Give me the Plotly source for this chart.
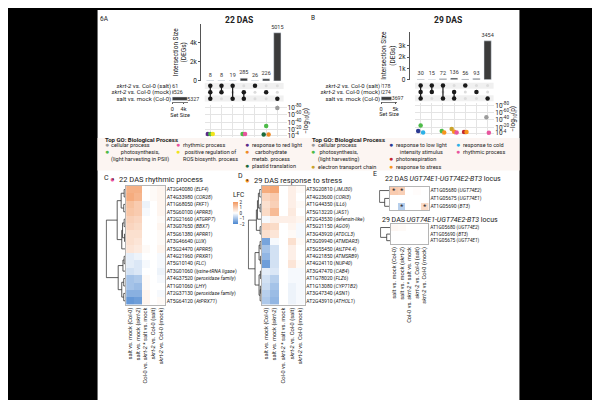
import plotly.graph_objects as go
from collections import defaultdict

W, H = 600, 400
FONT = "Roboto"

# ---------------- DATA ----------------
set_labels = ["<i>skrt-2</i> vs. Col-0 (salt)", "<i>skrt-2</i> vs. Col-0 (mock)", "salt vs. mock (Col-0)"]
inter_members = [[0, 1, 2], [0, 1], [0, 2], [1, 2], [0], [1], [2]]

set_sizes_A = [61, 526, 5327]
inter_sizes_A = [8, 8, 19, 285, 26, 226, 5015]
set_sizes_B = [178, 274, 3697]
inter_sizes_B = [30, 15, 72, 136, 56, 93, 3454]

go_colors = {
    "cellular process": "#9b9b9b",
    "rhythmic process": "#e8559e",
    "response to red light": "#5a2a88",
    "photosynthesis": "#4dbb48",
    "ROS biosynth": "#f1e41c",
    "carbohydrate metab": "#ef8a26",
    "plastid translation": "#1b6a3a",
    "response to low light": "#2b3a92",
    "response to cold": "#2cb0e6",
    "photorespiration": "#c3272d",
    "electron transport chain": "#c9a32a",
    "response to stress": "#f7941d",
}

goA_col = [1, 1, 1, 4, 4, 6, 6, 6, 7]
goA_val = [8, 8, 8, 8, 8, 7, 30, 7, 79]
goA_term = ["response to red light", "photosynthesis", "ROS biosynth", "photosynthesis",
            "rhythmic process", "plastid translation", "photosynthesis", "carbohydrate metab",
            "cellular process"]

goB_col = [1, 1, 1, 3, 3, 4, 4, 4, 5, 5, 7, 7]
goB_val = [10, 25, 6, 10, 6, 15, 8, 6, 7, 7, 47, 5]
goB_term = ["response to low light", "photosynthesis", "response to cold", "photosynthesis",
            "response to stress", "electron transport chain", "response to stress", "rhythmic process",
            "photorespiration", "response to stress", "cellular process", "rhythmic process"]

contrasts = ["salt vs. mock (Col-0)", "salt vs. mock (<i>skrt-2</i>)",
             "Col-0 vs. <i>skrt-2</i> * salt vs. mock", "<i>skrt-2</i> vs. Col-0 (salt)",
             "<i>skrt-2</i> vs. Col-0 (mock)"]

genes_C = ["AT2G40080 (<i>ELF4</i>)", "AT4G33980 (<i>COR28</i>)", "AT1G68050 (<i>FKF1</i>)",
           "AT5G60100 (<i>APRR3</i>)", "AT2G21660 (<i>ATGRP7</i>)", "AT3G07650 (<i>BBX7</i>)",
           "AT5G61380 (<i>APRR1</i>)", "AT3G46640 (<i>LUX</i>)", "AT5G24470 (<i>APRR5</i>)",
           "AT4G21960 (<i>PRXR1</i>)", "AT5G10140 (<i>FLC</i>)", "AT3G01060 (<i>lysine-tRNA ligase</i>)",
           "AT4G37520 (<i>peroxidase family</i>)", "AT1G01060 (<i>LHY</i>)",
           "AT2G37130 (<i>peroxidase family</i>)", "AT5G64120 (<i>AtPRX71</i>)"]
lfc_C = [
    [1.5, 1.5, 0.0, 0.1, 0.2], [1.6, 1.4, 0.0, 0.1, 0.2], [1.2, 1.0, -0.2, 0.0, 0.2],
    [1.1, 1.0, -0.1, 0.0, 0.2], [0.9, 0.8, 0.0, 0.0, 0.1], [0.8, 0.7, 0.0, 0.0, 0.2],
    [0.6, 0.6, 0.0, 0.0, 0.1], [0.6, 0.5, 0.0, 0.0, 0.1], [0.5, 0.4, 0.1, 0.0, 0.2],
    [-0.3, -0.2, 0.0, 0.0, -0.1], [-0.3, -0.4, -0.1, 0.0, -0.1], [-0.5, -0.4, 0.0, 0.0, -0.2],
    [-1.0, -0.9, 0.1, 0.0, -0.1], [-1.0, -1.1, 0.1, 0.0, 0.0], [-1.3, -1.3, 0.2, 0.0, -0.1],
    [-1.7, -1.6, 0.2, 0.0, 0.1]]
tree_C = [(0, 1, 0.10), (2, 3, 0.12), (16, 17, 0.25), (4, 5, 0.10), (6, 7, 0.08), (19, 20, 0.18),
          (21, 8, 0.22), (18, 22, 0.45), (9, 10, 0.10), (24, 11, 0.16), (12, 13, 0.12),
          (14, 15, 0.12), (26, 27, 0.22), (25, 28, 0.40), (23, 29, 1.0)]

genes_D = ["AT3G20810 (<i>JMJ30</i>)", "AT4G23600 (<i>CORI3</i>)", "AT1G44350 (<i>ILL6</i>)",
           "AT5G13220 (<i>JAS1</i>)", "AT2G43530 (<i>defensin-like</i>)", "AT5G21150 (<i>AGO9</i>)",
           "AT3G43920 (<i>ATDCL3</i>)", "AT3G09940 (<i>ATMDAR3</i>)", "AT5G55450 (<i>AtLTP4.4</i>)",
           "AT4G21850 (<i>ATMSRB9</i>)", "AT4G24110 (<i>NUP40</i>)", "AT3G47470 (<i>CAB4</i>)",
           "AT1G78020 (<i>FLZ6</i>)", "AT1G13080 (<i>CYP71B2</i>)", "AT3G47340 (<i>ASN1</i>)",
           "AT2G43910 (<i>ATHOL1</i>)"]
lfc_D = [
    [1.6, 1.7, 0.0, 0.3, 0.1], [0.8, 1.0, 0.0, 0.3, 0.0], [0.6, 0.9, 0.0, 0.3, 0.1],
    [0.7, 1.3, 0.0, 0.4, 0.0], [-0.1, 0.3, 0.3, 0.3, 0.2], [0.8, 0.7, 0.0, 0.2, -0.1],
    [0.6, 0.5, 0.0, 0.1, -0.1], [-1.5, -0.1, 0.0, 0.6, 0.1], [-1.0, -0.5, 0.0, 0.3, 0.0],
    [-1.2, -0.5, 0.0, 0.3, 0.0], [-1.6, -0.5, 0.0, 0.5, 0.1], [-0.3, -0.4, 0.0, -0.1, -0.1],
    [-0.5, -0.8, 0.0, -0.1, -0.1], [-0.6, -1.0, 0.0, -0.2, -0.1], [-0.8, -1.1, 0.0, -0.2, -0.1],
    [-0.9, -1.2, 0.0, -0.2, -0.1]]
tree_D = [(0, 1, 0.15), (2, 3, 0.12), (16, 17, 0.25), (18, 4, 0.32), (5, 6, 0.12), (19, 20, 0.40),
          (7, 8, 0.12), (9, 10, 0.10), (22, 23, 0.20), (11, 12, 0.10), (13, 14, 0.08),
          (26, 15, 0.12), (25, 27, 0.20), (24, 28, 0.50), (21, 29, 1.0)]

genes_E1 = ["AT1G05680 (<i>UGT74E2</i>)", "AT1G05675 (<i>UGT74E1</i>)", "AT1G05690 (<i>BT3</i>)"]
lfc_E1 = [[1.0, 0.9, 0.0, 0.05, 0.0], [0.0, 0.0, 0.0, 0.0, 0.0], [0.0, -0.8, 0.0, 0.0, 0.7]]
sig_E1 = [["*", "*", "", "", ""], ["", "", "", "", ""], ["", "*", "", "", "*"]]
tree_E1 = [(1, 2, 0.5), (0, 3, 1.0)]

genes_E2 = ["AT1G05680 (<i>UGT74E2</i>)", "AT1G05690 (<i>BT3</i>)", "AT1G05675 (<i>UGT74E1</i>)"]
lfc_E2 = [[0.15, 0.1, 0.0, 0.0, 0.0], [0.0, 0.0, 0.0, 0.0, 0.0], [0.0, 0.0, 0.0, 0.0, 0.0]]
tree_E2 = [(1, 2, 0.4), (0, 3, 1.0)]

# ---------------- HELPERS ----------------
def dx(a, b):
    return [a / W, b / W]

def dy(top, bot):
    return [1 - bot / H, 1 - top / H]

def crange(a, b, c1, u):
    return [(a - c1) / u + 1, (b - c1) / u + 1]

def dodge(cols, step=0.22):
    tot = defaultdict(int)
    cnt = defaultdict(int)
    for c in cols:
        tot[c] += 1
    out = []
    for c in cols:
        k = cnt[c]
        cnt[c] += 1
        out.append(c + (k - (tot[c] - 1) / 2) * step)
    return out

def dendro_lines(n, merges):
    pos = {i: (0.0, float(i)) for i in range(n)}
    xs, ys = [], []
    for k, (a, b, h) in enumerate(merges):
        ha, ya = pos[a]
        hb, yb = pos[b]
        xs += [ha, h, h, hb, None]
        ys += [ya, ya, yb, yb, None]
        pos[n + k] = (h, (ya + yb) / 2)
    return xs, ys

HID = dict(showgrid=False, zeroline=False, showticklabels=False, ticks="", showline=False)
CSCALE = [[0, "#4a86d0"], [0.5, "#ffffff"], [1, "#f2975e"]]
TXT = "#222222"

fig = go.Figure()
layout = dict(width=W, height=H, margin=dict(l=0, r=0, t=0, b=0), paper_bgcolor="black",
              plot_bgcolor="white", showlegend=False, font=dict(family=FONT, size=6, color=TXT))
shapes = []
annotations = []

def ax(n, xd, yd, xopt, yopt):
    layout["xaxis%d" % n] = dict(domain=xd, anchor="y%d" % n, **xopt)
    layout["yaxis%d" % n] = dict(domain=yd, anchor="x%d" % n, **yopt)

def upset(base, sizes, inter, c1, u, bar_dom, bar_top, bar_bot, bar_max, tickvals, ticktext,
          mat_dom, mat_y, ss_dom, ss_max, ss_ticks, ss_text, go_dom, go_y, go_range,
          gcols, gvals, gterms):
    nb, nm, ns, ng = base, base + 1, base + 2, base + 3
    cols = list(range(1, 8))
    ax(nb, dx(*bar_dom), dy(bar_top, bar_bot),
       dict(range=crange(bar_dom[0], bar_dom[1], c1, u), **HID),
       dict(range=[0, bar_max], tickvals=tickvals, ticktext=ticktext, ticks="outside", ticklen=2,
            tickcolor="#555", showline=True, linecolor="#555", linewidth=0.8, showgrid=False,
            zeroline=False, tickfont=dict(size=6.5),
            title=dict(text="Intersection Size<br>(DEGs)", font=dict(size=6.5), standoff=2)))
    fig.add_trace(go.Bar(x=cols, y=inter, xaxis="x%d" % nb, yaxis="y%d" % nb, marker_color="#3b3b3b",
                         width=0.65, text=[str(v) for v in inter], textposition="outside",
                         textfont=dict(size=5.5, color="#333"), cliponaxis=False, constraintext="none"))
    mr = crange(mat_dom[0], mat_dom[1], c1, u)
    ax(nm, dx(*mat_dom), dy(*mat_y), dict(range=mr, **HID), dict(range=[2.5, -0.5], **HID))
    for r in (0, 2):
        shapes.append(dict(type="rect", xref="x%d domain" % nm, yref="y%d" % nm, x0=0, x1=1,
                           y0=r - 0.5, y1=r + 0.5, fillcolor="#f0f0f0", line_width=0, layer="below"))
    allx = [c for c in cols for r in range(3)]
    ally = [r for c in cols for r in range(3)]
    fig.add_trace(go.Scatter(x=allx, y=ally, mode="markers", xaxis="x%d" % nm, yaxis="y%d" % nm,
                             marker=dict(size=3, color="#dcdcdc"), hoverinfo="skip"))
    lx, ly = [], []
    mx, my = [], []
    for c, mem in zip(cols, inter_members):
        if len(mem) > 1:
            lx += [c, c, None]
            ly += [min(mem), max(mem), None]
        for r in mem:
            mx.append(c)
            my.append(r)
    fig.add_trace(go.Scatter(x=lx, y=ly, mode="lines", xaxis="x%d" % nm, yaxis="y%d" % nm,
                             line=dict(color="#1a1a1a", width=1.2), hoverinfo="skip"))
    fig.add_trace(go.Scatter(x=mx, y=my, mode="markers", xaxis="x%d" % nm, yaxis="y%d" % nm,
                             marker=dict(size=4.5, color="#1a1a1a")))
    ax(ns, dx(*ss_dom), dy(*mat_y),
       dict(range=[0, ss_max], tickvals=ss_ticks, ticktext=ss_text, ticks="outside", ticklen=1.5,
            tickcolor="#555", showline=True, linecolor="#777", linewidth=0.6, showgrid=False,
            zeroline=False, tickfont=dict(size=5.5),
            title=dict(text="Set Size", font=dict(size=5.5), standoff=0)),
       dict(range=[2.5, -0.5], tickvals=[0, 1, 2], ticktext=set_labels, ticks="", showline=False,
            showgrid=False, zeroline=False, tickfont=dict(size=6)))
    fig.add_trace(go.Bar(x=sizes, y=[0, 1, 2], orientation="h", xaxis="x%d" % ns, yaxis="y%d" % ns,
                         width=0.55, marker_color="#3b3b3b", text=[str(v) for v in sizes],
                         textposition="outside", textfont=dict(size=5.3, color="#333"),
                         cliponaxis=False, constraintext="none"))
    ax(ng, dx(*go_dom), dy(*go_y),
       dict(range=crange(go_dom[0], go_dom[1], c1, u), tickvals=cols, showticklabels=False, ticks="",
            showgrid=True, gridcolor="#e4e4e4", gridwidth=0.6, zeroline=False, showline=False),
       dict(range=go_range, side="right", tickvals=[4, 20, 40, 60, 80],
            ticktext=["10<sup>-4</sup>", "10<sup>-20</sup>", "10<sup>-40</sup>", "10<sup>-60</sup>",
                      "10<sup>-80</sup>"], ticks="", showgrid=True, gridcolor="#e4e4e4",
            gridwidth=0.6, zeroline=False, showline=False, tickfont=dict(size=6.5),
            title=dict(text="\u2212log<sub>10</sub>(p)", font=dict(size=6.5), standoff=1)))
    fig.add_trace(go.Scatter(x=dodge(gcols), y=gvals, mode="markers", xaxis="x%d" % ng,
                             yaxis="y%d" % ng,
                             marker=dict(size=4.5, color=[go_colors[t] for t in gterms],
                                         line=dict(width=0)), cliponaxis=False))

upset(1, set_sizes_A, inter_sizes_A, 201.3, 11.23, (192, 275), 14, 72, 5950, [0, 2000, 4000],
      ["0", "2k", "4k"], (195.7, 275), (73.75, 93.25), (163, 179), 5600, [0, 4000], ["0", "4k"],
      (195.7, 278), (96, 129), [0, 88], goA_col, goA_val, goA_term)
upset(5, set_sizes_B, inter_sizes_B, 412.7, 11.22, (401.7, 486), 22, 70.7, 4270,
      [0, 1000, 2000, 3000], ["0", "1k", "2k", "3k"], (407, 486), (73.5, 93), (373, 389), 5600,
      [0, 5000], ["0", "5k"], (407, 486.7), (94, 127), [-1.4, 87.3], goB_col, goB_val, goB_term)

# ---------------- HEATMAPS ----------------
def heat(nd, nh, dend_dom, heat_dom, ydom, z, genes, tree, show_cols, text=None, scale=False,
         gfont=5.0):
    n = len(genes)
    yr = [n - 0.5, -0.5]
    ax(nd, dx(*dend_dom), dy(*ydom), dict(range=[1.04, 0], **HID), dict(range=yr, **HID))
    xs, ys = dendro_lines(n, tree)
    fig.add_trace(go.Scatter(x=xs, y=ys, mode="lines", xaxis="x%d" % nd, yaxis="y%d" % nd,
                             line=dict(color="#333", width=0.8), hoverinfo="skip"))
    xopt = dict(range=[-0.5, 4.5], tickvals=list(range(5)),
                ticktext=contrasts if show_cols else [""] * 5,
                showticklabels=show_cols, tickangle=-90, ticks="", tickfont=dict(size=5.7),
                showgrid=False, zeroline=False, showline=True, mirror=True, linecolor="#b5b5b5",
                linewidth=0.6)
    yopt = dict(range=yr, side="right", tickvals=list(range(n)), ticktext=genes, ticks="",
                tickfont=dict(size=gfont), showgrid=False, zeroline=False, showline=True,
                mirror=True, linecolor="#b5b5b5", linewidth=0.6)
    ax(nh, dx(*heat_dom), dy(*ydom), xopt, yopt)
    kw = dict(z=z, x=list(range(5)), y=list(range(n)), xaxis="x%d" % nh, yaxis="y%d" % nh,
              colorscale=CSCALE, zmin=-2, zmax=2, showscale=scale)
    if text is not None:
        kw.update(text=text, texttemplate="%{text}", textfont=dict(size=7, color="#222"))
    if scale:
        kw["colorbar"] = dict(x=224 / W, xanchor="left", y=1 - 182 / H, yanchor="top",
                              len=36 / H, lenmode="fraction", thickness=5, thicknessmode="pixels",
                              title=dict(text="LFC", side="top", font=dict(size=6.5)),
                              tickvals=[-2, -1, 0, 1, 2], tickfont=dict(size=4.5), ticks="",
                              outlinewidth=0, xpad=0, ypad=0)
    fig.add_trace(go.Heatmap(**kw))

heat(9, 10, (96, 116.7), (116.7, 155.7), (178.5, 299), lfc_C, genes_C, tree_C, True)
heat(11, 12, (239, 253), (253, 296), (178.5, 299), lfc_D, genes_D, tree_D, True, scale=True)
heat(13, 14, (371, 381.7), (381.7, 420.7), (179.3, 203.3), lfc_E1, genes_E1, tree_E1, False,
     text=sig_E1)
heat(15, 16, (372, 382.7), (382.7, 420.5), (217.5, 237.5), lfc_E2, genes_E2, tree_E2, True,
     gfont=4.8)

# ---------------- TEXT / DECOR ----------------
shapes.insert(0, dict(type="rect", xref="paper", yref="paper", x0=88 / W, x1=512 / W, y0=0, y1=1,
                      fillcolor="white", line_width=0, layer="below"))
shapes.insert(1, dict(type="rect", xref="paper", yref="paper", x0=88 / W, x1=512 / W,
                      y0=1 - 163 / H, y1=1 - 130 / H, fillcolor="#fcf5f2", line_width=0,
                      layer="below"))

def txt(x, y, s, size=6.0, anchor="left", color=TXT, yanchor="middle"):
    annotations.append(dict(x=x / W, y=1 - y / H, xref="paper", yref="paper", text=s,
                            showarrow=False, xanchor=anchor, yanchor=yanchor, borderpad=0,
                            font=dict(size=size, color=color, family=FONT)))

txt(89, 9, "6A", 6.5)
txt(230, 10, "<b>22 DAS</b>", 8.5, "center")
txt(302, 8, "B", 6.5)
txt(440, 10, "<b>29 DAS</b>", 8.5, "center")

def legend_item(x, y, color, label):
    txt(x, y, "\u25cf", 7, "center", color)
    txt(x + 3.8, y - 3.5, label, 5.5, "left", TXT, "top")

txt(94, 131, "<b>Top GO: Biological Process</b>", 6)
legend_item(97, 137, go_colors["cellular process"], "cellular process")
legend_item(169, 137, go_colors["rhythmic process"], "rhythmic process")
legend_item(238, 137, go_colors["response to red light"], "response to red light")
legend_item(97, 144, go_colors["photosynthesis"], "photosynthesis,<br>(light harvesting in PSII)")
legend_item(169, 144, go_colors["ROS biosynth"], "positive regulation of<br>ROS biosynth. process")
legend_item(238, 144, go_colors["carbohydrate metab"], "carbohydrate<br>metab. process")
legend_item(238, 158, go_colors["plastid translation"], "plastid translation")

txt(303, 131, "<b>Top GO: Biological Process</b>", 6)
legend_item(305, 137, go_colors["cellular process"], "cellular process")
legend_item(383, 137, go_colors["response to low light"], "response to low light<br>intensity stimulus")
legend_item(450, 137, go_colors["response to cold"], "response to cold")
legend_item(305, 144, go_colors["photosynthesis"], "photosynthesis,<br>(light harvesting)")
legend_item(450, 144, go_colors["rhythmic process"], "rhythmic process")
legend_item(383, 151, go_colors["photorespiration"], "photorespiration")
legend_item(305, 159, go_colors["electron transport chain"], "electron transport chain")
legend_item(383, 159, go_colors["response to stress"], "response to stress")

txt(93, 171, "C", 7)
txt(103.5, 172, "\u25cf", 8, "center", go_colors["rhythmic process"])
txt(103.5, 172, "\u25cf", 3.5, "center", "#222")
txt(109, 172, "22 DAS rhythmic process", 7.5)
txt(228, 169, "D", 7)
txt(238.5, 173, "\u25cf", 8, "center", go_colors["response to stress"])
txt(238.5, 173, "\u25cf", 3.5, "center", "#222")
txt(244, 173, "29 DAS response to stress", 7.5)
txt(364, 167, "E", 7)
txt(376, 172, "22 DAS <i>UGT74E1-UGT74E2-BT3</i> locus", 7)
txt(373, 213, "29 DAS <i>UGT74E1-UGT74E2-BT3</i> locus", 7)

layout["shapes"] = shapes
layout["annotations"] = annotations
fig.update_layout(**layout)
fig.write_html("out.html")
